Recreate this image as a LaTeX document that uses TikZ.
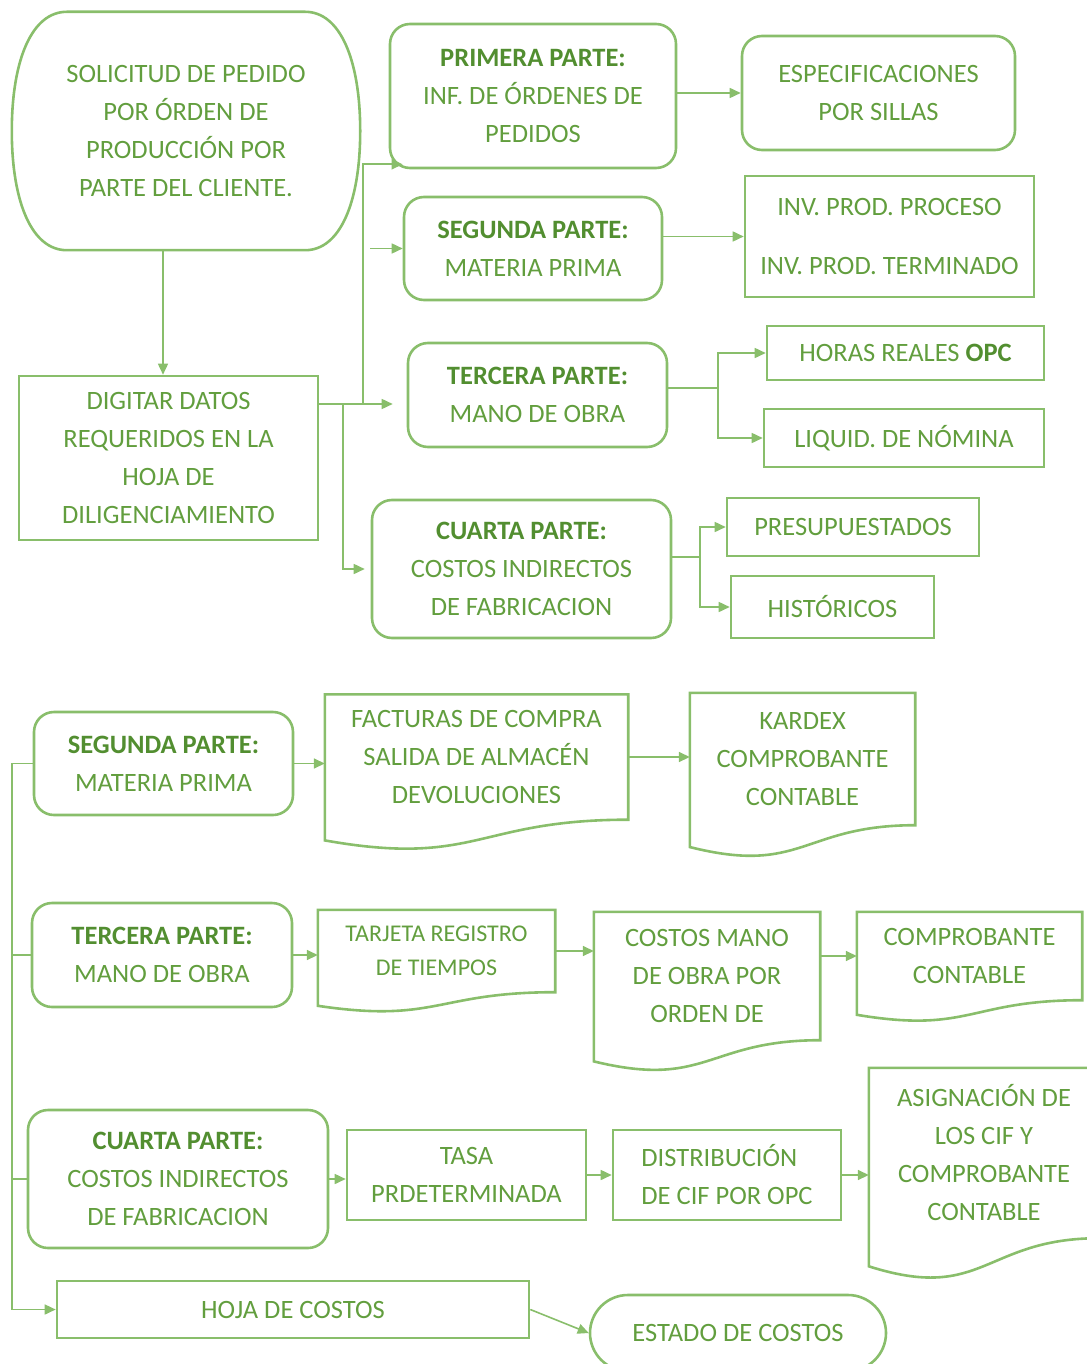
\documentclass[tikz,border=0pt]{standalone}
\usepackage{fontspec}
\setmainfont{Carlito}
\usetikzlibrary{shapes.misc, calc, arrows.meta}
\definecolor{linegreen}{RGB}{137, 190, 107}
\definecolor{textgreen}{RGB}{98, 158, 62}
\definecolor{headgreen}{RGB}{82, 142, 48}

% outline of a document node (wavy bottom)
\newcommand{\docframe}[1]{%
  \draw[boxline] (#1.north west) -- (#1.north east) -- (#1.south east)
    .. controls (#1.south) and ($(#1.south)!-0.38!(#1.north)$)
    .. ($(#1.south west)!-0.165!(#1.north west)$) -- cycle;}
\newcommand{\hd}[1]{\textbf{\color{headgreen}#1}}

\begin{document}
\begin{tikzpicture}[x=1pt, y=-1pt,
    boxline/.style={draw=linegreen, line width=2.6pt},
    base/.style={inner sep=0pt, align=center, text=textgreen, font=\fontsize{26.5}{38}\selectfont},
    roundbox/.style={base, boxline, rounded corners=20pt},
    plainbox/.style={base, boxline},
    docbox/.style={base},
    arr/.style={draw=linegreen, line width=1.6pt, -{Triangle[length=11pt,width=10pt]}},
    link/.style={draw=linegreen, line width=1.6pt}]
\useasboundingbox (0,0) rectangle (1086,1364);

% upper flow
\node[base, minimum width=348, minimum height=238] (sol) at (186,131)
  {SOLICITUD DE PEDIDO\\POR ÓRDEN DE\\PRODUCCIÓN POR\\PARTE DEL CLIENTE.};
\draw[boxline] ([shift={(55,0)}]sol.north west) -- ([shift={(-55,0)}]sol.north east)
  .. controls ([shift={(-20,0)}]sol.north east) and ([shift={(0,-71)}]sol.east) .. (sol.east)
  .. controls ([shift={(0,71)}]sol.east) and ([shift={(-20,0)}]sol.south east) .. ([shift={(-55,0)}]sol.south east)
  -- ([shift={(55,0)}]sol.south west)
  .. controls ([shift={(20,0)}]sol.south west) and ([shift={(0,71)}]sol.west) .. (sol.west)
  .. controls ([shift={(0,-71)}]sol.west) and ([shift={(20,0)}]sol.north west) .. cycle;
\node[roundbox, minimum width=286, minimum height=144] (pri) at (533,96) {\hd{PRIMERA PARTE:}\\INF. DE ÓRDENES DE\\PEDIDOS};
\node[roundbox, minimum width=273, minimum height=114] (esp) at (878.5,93) {ESPECIFICACIONES\\POR SILLAS};
\node[roundbox, minimum width=258, minimum height=103] (seg) at (533,248.5) {\hd{SEGUNDA PARTE:}\\MATERIA PRIMA};
\node[plainbox, minimum width=289, minimum height=121] (inv) at (889.5,236.5) {INV. PROD. PROCESO\\[21pt]INV. PROD. TERMINADO};
\node[roundbox, minimum width=259, minimum height=104] (ter) at (537.5,395) {\hd{TERCERA PARTE:}\\MANO DE OBRA};
\node[plainbox, minimum width=277, minimum height=54] (hor) at (905.5,353) {HORAS REALES \hd{OPC}};
\node[plainbox, minimum width=280, minimum height=58] (liq) at (904,438) {LIQUID. DE NÓMINA};
\node[plainbox, minimum width=299, minimum height=164] (dig) at (168.5,458) {DIGITAR DATOS\\REQUERIDOS EN LA\\HOJA DE\\DILIGENCIAMIENTO};
\node[roundbox, minimum width=299, minimum height=138] (cua) at (521.5,569) {\hd{CUARTA PARTE:}\\COSTOS INDIRECTOS\\DE FABRICACION};
\node[plainbox, minimum width=252, minimum height=58] (pre) at (853,527) {PRESUPUESTADOS};
\node[plainbox, minimum width=203, minimum height=62] (his) at (832.5,607) {HISTÓRICOS};

\coordinate (jA) at (363,404);
\coordinate (jB) at (343,404);
\coordinate (jC) at (718,388);
\coordinate (jD) at (700,557);

\draw[arr] (sol.south -| 163,0) -- (dig.north -| 163,0);
\draw[arr, shorten >=14pt] (dig.east |- jA) -- (ter.west |- jA);
\draw[arr] (jA) |- ([shift={(14,-5)}]pri.south west);
\draw[arr] ([xshift=7pt]jA |- seg.west) -- (seg.west);
\draw[arr, shorten >=6pt] (jB) |- (cua.west);
\draw[arr] (pri.east |- esp.west) -- (esp.west);
\draw[arr] (seg.east |- inv.west) -- (inv.west);
\draw[link] (ter.east |- jC) -- (jC);
\draw[arr] (jC) |- (hor.west);
\draw[arr] (jC) |- (liq.west);
\draw[link] (cua.east |- jD) -- (jD);
\draw[arr] (jD) |- (pre.west);
\draw[arr] (jD) |- (his.west);

% lower flow
\node[roundbox, minimum width=259, minimum height=103] (seg2) at (163.5,763.5) {\hd{SEGUNDA PARTE:}\\MATERIA PRIMA};
\node[docbox, minimum width=303, minimum height=125] (fac) at (476.5,757) {FACTURAS DE COMPRA\\SALIDA DE ALMACÉN\\DEVOLUCIONES};
\node[docbox, minimum width=225, minimum height=132] (kar) at (802.5,759) {KARDEX\\COMPROBANTE\\CONTABLE};
\node[roundbox, minimum width=260, minimum height=104] (ter2) at (162,955) {\hd{TERCERA PARTE:}\\MANO DE OBRA};
\node[docbox, minimum width=237, minimum height=82, font=\fontsize{24}{34}\selectfont] (tar) at (436.5,951) {TARJETA REGISTRO\\DE TIEMPOS};
\node[docbox, minimum width=226, minimum height=128] (cmo) at (707,976) {COSTOS MANO\\DE OBRA POR\\ORDEN DE};
\node[docbox, minimum width=225, minimum height=88] (com) at (969.5,956) {COMPROBANTE\\CONTABLE};
\node[roundbox, minimum width=300, minimum height=138] (cua2) at (178,1179) {\hd{CUARTA PARTE:}\\COSTOS INDIRECTOS\\DE FABRICACION};
\node[plainbox, minimum width=239, minimum height=90] (tas) at (466.5,1175) {TASA\\PRDETERMINADA};
\node[plainbox, align=left, minimum width=228, minimum height=90] (dis) at (727,1175) {DISTRIBUCIÓN\\DE CIF POR OPC};
\node[docbox, minimum width=230, minimum height=170] (asi) at (984,1153) {ASIGNACIÓN DE\\LOS CIF Y\\COMPROBANTE\\CONTABLE};
\node[plainbox, minimum width=472, minimum height=57] (hoj) at (293,1309.5) {HOJA DE COSTOS};
\node[base, boxline, rounded rectangle, minimum width=296, minimum height=76] (est) at (738,1333) {ESTADO DE COSTOS};

\docframe{fac}
\docframe{kar}
\docframe{tar}
\docframe{cmo}
\docframe{com}
\docframe{asi}

\coordinate (rail) at (12,765);
\draw[arr] (seg2.west) -- (seg2.west -| rail) |- (hoj.west);
\draw[link] (ter2.west) -- (ter2.west -| rail);
\draw[link] (cua2.west) -- (cua2.west -| rail);
\draw[arr] (seg2.east) -- (fac.west |- seg2.east);
\draw[arr] (fac.east) -- (kar.west |- fac.east);
\draw[arr] (ter2.east) -- (tar.west |- ter2.east);
\draw[arr] (tar.east) -- (cmo.west |- tar.east);
\draw[arr] (cmo.east |- com.west) -- (com.west);
\draw[arr] (cua2.east) -- (tas.west |- cua2.east);
\draw[arr] (tas.east) -- (dis.west);
\draw[arr] (dis.east) -- (asi.west |- dis.east);
\draw[arr] (hoj.east) -- (est.west);
\end{tikzpicture}
\end{document}
